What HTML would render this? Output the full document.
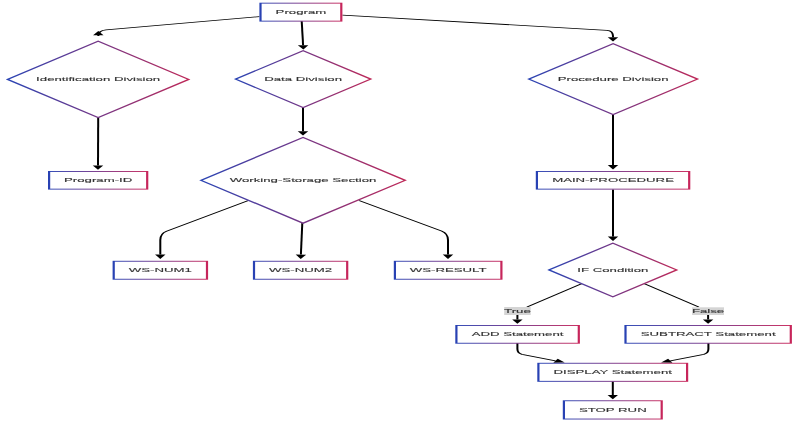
<!DOCTYPE html>
<html><head><meta charset="utf-8"><style>
html,body{margin:0;padding:0;background:#fff;width:800px;height:423px;overflow:hidden}
svg{display:block}
text{font-family:"Liberation Sans",sans-serif;font-size:16px;fill:#333333;stroke:#333333;stroke-width:0.3px}
svg{will-change:transform}
</style></head><body>
<svg width="800" height="423" viewBox="0 0 800 423">
<rect width="800" height="423" fill="#fff"/>
<defs><marker id="ah" markerUnits="userSpaceOnUse" markerWidth="40" markerHeight="40" refX="0" refY="0" orient="auto" overflow="visible"><path d="M0,-6.4 L12.5,0 L0,6.4 z" fill="#000"/></marker><linearGradient id="g1" gradientUnits="userSpaceOnUse" x1="317.503" y1="0" x2="419.094" y2="0"><stop offset="0" stop-color="#2742b4"/><stop offset="1" stop-color="#c8255a"/></linearGradient><linearGradient id="g2" gradientUnits="userSpaceOnUse" x1="9.302" y1="0" x2="230.967" y2="0"><stop offset="0" stop-color="#2a44b4"/><stop offset="1" stop-color="#be2858"/></linearGradient><linearGradient id="g3" gradientUnits="userSpaceOnUse" x1="288.25" y1="0" x2="453.794" y2="0"><stop offset="0" stop-color="#2a44b4"/><stop offset="1" stop-color="#be2858"/></linearGradient><linearGradient id="g4" gradientUnits="userSpaceOnUse" x1="647.185" y1="0" x2="853.733" y2="0"><stop offset="0" stop-color="#2a44b4"/><stop offset="1" stop-color="#be2858"/></linearGradient><linearGradient id="g5" gradientUnits="userSpaceOnUse" x1="58.752" y1="0" x2="181.518" y2="0"><stop offset="0" stop-color="#2742b4"/><stop offset="1" stop-color="#c8255a"/></linearGradient><linearGradient id="g6" gradientUnits="userSpaceOnUse" x1="245.9" y1="0" x2="495.961" y2="0"><stop offset="0" stop-color="#2a44b4"/><stop offset="1" stop-color="#be2858"/></linearGradient><linearGradient id="g7" gradientUnits="userSpaceOnUse" x1="655.814" y1="0" x2="844.92" y2="0"><stop offset="0" stop-color="#2742b4"/><stop offset="1" stop-color="#c8255a"/></linearGradient><linearGradient id="g8" gradientUnits="userSpaceOnUse" x1="137.821" y1="0" x2="254.712" y2="0"><stop offset="0" stop-color="#2742b4"/><stop offset="1" stop-color="#c8255a"/></linearGradient><linearGradient id="g9" gradientUnits="userSpaceOnUse" x1="309.547" y1="0" x2="426.316" y2="0"><stop offset="0" stop-color="#2742b4"/><stop offset="1" stop-color="#c8255a"/></linearGradient><linearGradient id="g10" gradientUnits="userSpaceOnUse" x1="482.007" y1="0" x2="615.055" y2="0"><stop offset="0" stop-color="#2742b4"/><stop offset="1" stop-color="#c8255a"/></linearGradient><linearGradient id="g11" gradientUnits="userSpaceOnUse" x1="671.971" y1="0" x2="828.274" y2="0"><stop offset="0" stop-color="#2a44b4"/><stop offset="1" stop-color="#be2858"/></linearGradient><linearGradient id="g12" gradientUnits="userSpaceOnUse" x1="557.283" y1="0" x2="709.792" y2="0"><stop offset="0" stop-color="#2742b4"/><stop offset="1" stop-color="#c8255a"/></linearGradient><linearGradient id="g13" gradientUnits="userSpaceOnUse" x1="764.259" y1="0" x2="969.278" y2="0"><stop offset="0" stop-color="#2742b4"/><stop offset="1" stop-color="#c8255a"/></linearGradient><linearGradient id="g14" gradientUnits="userSpaceOnUse" x1="657.65" y1="0" x2="842.35" y2="0"><stop offset="0" stop-color="#2742b4"/><stop offset="1" stop-color="#c8255a"/></linearGradient><linearGradient id="g15" gradientUnits="userSpaceOnUse" x1="688.862" y1="0" x2="811.261" y2="0"><stop offset="0" stop-color="#2742b4"/><stop offset="1" stop-color="#c8255a"/></linearGradient></defs>
<g transform="scale(0.817,0.343)">
<path d="M317.503,48.397 L129.743,86.88 Q120.318,88.921 120.318,104.956 L120.318,102.952" fill="none" stroke="#000" stroke-width="2.45" marker-end="url(#ah)"/>
<path d="M369.278,61.224 L370.991,132.106" fill="none" stroke="#000" stroke-width="2.45" marker-end="url(#ah)"/>
<path d="M419.094,44.023 L742.962,88.338 Q750.306,89.796 750.306,104.956 L750.306,108.783" fill="none" stroke="#000" stroke-width="2.45" marker-end="url(#ah)"/>
<path d="M120.196,341.108 L119.951,482.544" fill="none" stroke="#000" stroke-width="2.45" marker-end="url(#ah)"/>
<path d="M370.869,311.953 L370.869,382.835" fill="none" stroke="#000" stroke-width="2.45" marker-end="url(#ah)"/>
<path d="M750.306,332.362 L750.306,481.378" fill="none" stroke="#000" stroke-width="2.45" marker-end="url(#ah)"/>
<path d="M304.039,584.548 L203.794,674.052 Q196.206,680.758 196.206,699.708 L196.206,742.31" fill="none" stroke="#000" stroke-width="2.45" marker-end="url(#ah)"/>
<path d="M370.012,650.146 L368.299,742.31" fill="none" stroke="#000" stroke-width="2.45" marker-end="url(#ah)"/>
<path d="M439.412,584.548 L540.392,673.469 Q548.348,680.758 548.348,699.708 L548.348,742.31" fill="none" stroke="#000" stroke-width="2.45" marker-end="url(#ah)"/>
<path d="M750.306,552.478 L750.306,689.832" fill="none" stroke="#000" stroke-width="2.45" marker-end="url(#ah)"/>
<path d="M711.75,827.405 L645.043,895.044" fill="none" stroke="#000" stroke-width="2.45"/>
<path d="M633.293,918.367 L633.293,931.232" fill="none" stroke="#000" stroke-width="2.45" marker-end="url(#ah)"/>
<path d="M788.862,827.405 L855.263,895.044" fill="none" stroke="#000" stroke-width="2.45"/>
<path d="M866.707,918.367 L866.707,931.232" fill="none" stroke="#000" stroke-width="2.45" marker-end="url(#ah)"/>
<path d="M633.293,1000.0 L633.293,1017.493 Q633.293,1029.738 638.923,1032.945 L679.927,1051.895" fill="none" stroke="#000" stroke-width="2.45" marker-end="url(#ah)"/>
<path d="M867.075,1000.0 L867.075,1017.493 Q867.075,1029.738 861.444,1032.945 L820.441,1051.895" fill="none" stroke="#000" stroke-width="2.45" marker-end="url(#ah)"/>
<path d="M750.061,1111.953 L750.061,1151.64" fill="none" stroke="#000" stroke-width="2.45" marker-end="url(#ah)"/>
<rect x="318.853" y="9.222" width="98.891" height="52.401999999999994" fill="#fff" stroke="url(#g1)" stroke-width="2.7"/>
<text transform="translate(368.299,42.128) scale(1.012,1)" text-anchor="middle">Program</text>
<polygon points="9.302,231.414 120.135,120.262 230.967,231.414 120.135,342.566" fill="#fff" stroke="url(#g2)" stroke-width="3.0" stroke-linejoin="miter"/>
<text transform="translate(120.135,235.35) scale(1.012,1)" text-anchor="middle">Identification Division</text>
<polygon points="288.25,230.685 371.022,147.959 453.794,230.685 371.022,313.411" fill="#fff" stroke="url(#g3)" stroke-width="3.0" stroke-linejoin="miter"/>
<text transform="translate(371.022,237.391) scale(1.012,1)" text-anchor="middle">Data Division</text>
<polygon points="647.185,230.685 750.459,127.551 853.733,230.685 750.459,333.819" fill="#fff" stroke="url(#g4)" stroke-width="3.0" stroke-linejoin="miter"/>
<text transform="translate(750.459,237.391) scale(1.012,1)" text-anchor="middle">Procedure Division</text>
<rect x="60.102000000000004" y="499.892" width="120.06599999999999" height="51.528000000000006" fill="#fff" stroke="url(#g5)" stroke-width="2.7"/>
<text transform="translate(120.135,530.612) scale(1.012,1)" text-anchor="middle">Program-ID</text>
<polygon points="245.9,525.656 370.93,400.583 495.961,525.656 370.93,650.729" fill="#fff" stroke="url(#g6)" stroke-width="3.0" stroke-linejoin="miter"/>
<text transform="translate(370.93,529.446) scale(1.012,1)" text-anchor="middle">Working-Storage Section</text>
<rect x="657.164" y="499.892" width="186.406" height="51.528000000000006" fill="#fff" stroke="url(#g7)" stroke-width="2.7"/>
<text transform="translate(750.367,529.155) scale(1.012,1)" text-anchor="middle">MAIN-PROCEDURE</text>
<rect x="139.171" y="761.7" width="114.19099999999999" height="52.40199999999997" fill="#fff" stroke="url(#g8)" stroke-width="2.7"/>
<text transform="translate(196.267,792.857) scale(1.012,1)" text-anchor="middle">WS-NUM1</text>
<rect x="310.89700000000005" y="761.7" width="114.06899999999995" height="52.40199999999997" fill="#fff" stroke="url(#g9)" stroke-width="2.7"/>
<text transform="translate(367.931,794.169) scale(1.012,1)" text-anchor="middle">WS-NUM2</text>
<rect x="483.357" y="761.7" width="130.34799999999996" height="52.40199999999997" fill="#fff" stroke="url(#g10)" stroke-width="2.7"/>
<text transform="translate(548.531,794.169) scale(1.012,1)" text-anchor="middle">WS-RESULT</text>
<polygon points="671.971,787.099 750.122,709.038 828.274,787.099 750.122,865.16" fill="#fff" stroke="url(#g11)" stroke-width="3.0" stroke-linejoin="miter"/>
<text transform="translate(750.122,793.222) scale(1.012,1)" text-anchor="middle">IF Condition</text>
<rect x="617.136" y="895.044" width="32.436000000000035" height="23.32299999999998" fill="#d4d4d4"/>
<text transform="translate(633.354,913.411) scale(1.012,1)" text-anchor="middle">True</text>
<rect x="847.124" y="895.918" width="39.04499999999996" height="22.448999999999955" fill="#d4d4d4"/>
<text transform="translate(866.646,913.848) scale(1.012,1)" text-anchor="middle">False</text>
<rect x="558.633" y="948.8720000000001" width="149.80900000000003" height="51.819" fill="#fff" stroke="url(#g12)" stroke-width="2.7"/>
<text transform="translate(633.537,980.321) scale(1.012,1)" text-anchor="middle">ADD Statement</text>
<rect x="765.609" y="948.8720000000001" width="202.31900000000002" height="51.819" fill="#fff" stroke="url(#g13)" stroke-width="2.7"/>
<text transform="translate(866.769,980.321) scale(1.012,1)" text-anchor="middle">SUBTRACT Statement</text>
<rect x="659.0" y="1059.076" width="182.00000000000006" height="52.693999999999775" fill="#fff" stroke="url(#g14)" stroke-width="2.7"/>
<text transform="translate(750.0,1090.379) scale(1.012,1)" text-anchor="middle">DISPLAY Statement</text>
<rect x="690.212" y="1168.405" width="119.699" height="53.27699999999986" fill="#fff" stroke="url(#g15)" stroke-width="2.7"/>
<text transform="translate(750.061,1201.749) scale(1.012,1)" text-anchor="middle">STOP RUN</text>
</g>
</svg>
</body></html>
